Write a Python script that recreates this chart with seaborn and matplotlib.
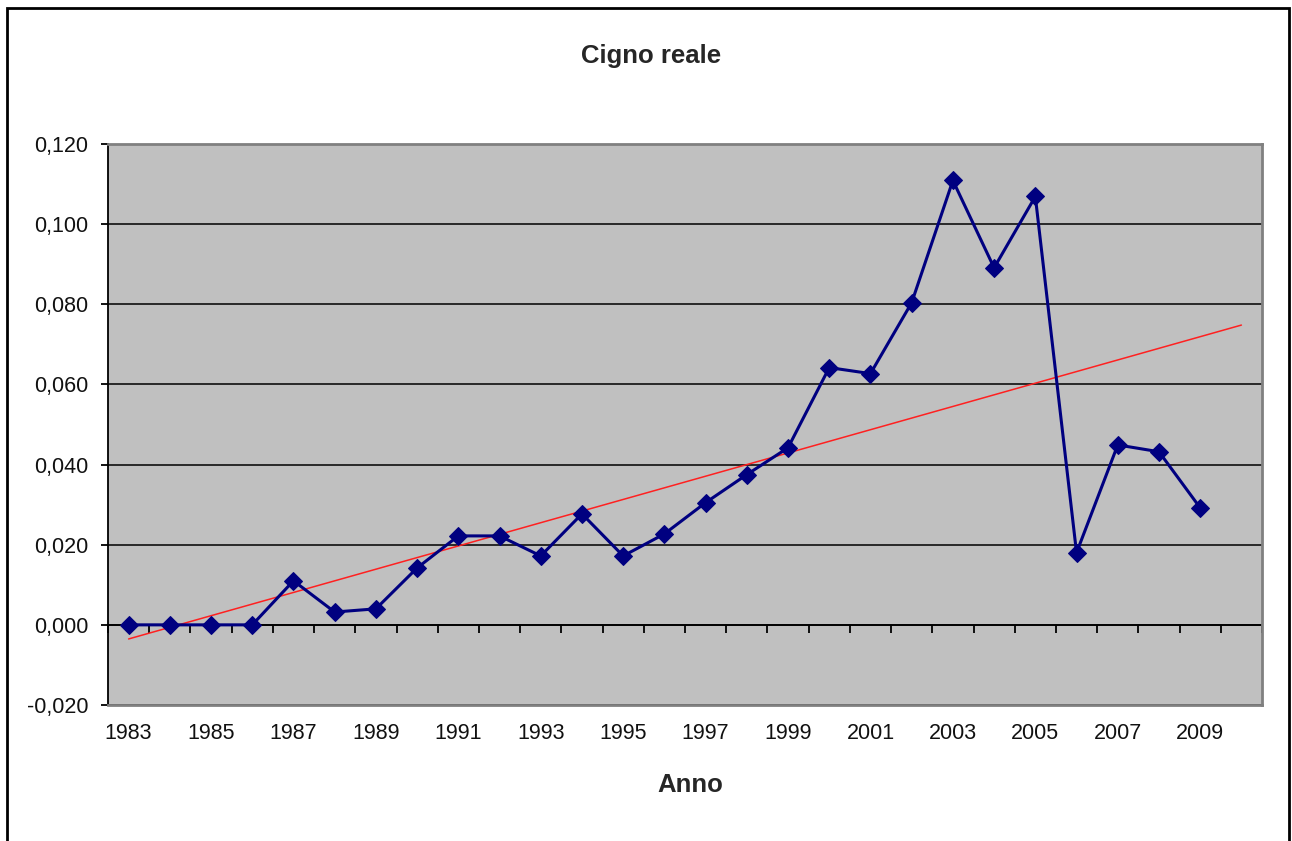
import numpy as np
import pandas as pd
import matplotlib
matplotlib.use("Agg")
import matplotlib.pyplot as plt
from matplotlib.ticker import FuncFormatter, MultipleLocator
from matplotlib.patches import Rectangle
import seaborn as sns

# values
years = list(range(1983, 2010))
values = [0.000, 0.000, 0.000, 0.000, 0.0110, 0.0032, 0.0040, 0.0142,
          0.0222, 0.0222, 0.0172, 0.0277, 0.0172, 0.0227, 0.0305, 0.0375,
          0.0442, 0.0642, 0.0627, 0.0804, 0.1109, 0.0891, 0.1069, 0.0180,
          0.0449, 0.0432, 0.0292]
trend_years = list(range(1983, 2011))
x_labels = list(range(1983, 2011, 2))

df = pd.DataFrame({"Anno": years, "Valore": values})

# linear trend, extended one year forward like the spreadsheet did
slope, intercept = np.polyfit(years, values, 1)
trend = pd.DataFrame({"Anno": trend_years})
trend["Valore"] = slope * trend["Anno"] + intercept

sns.set_style("white")
plt.rcParams["font.family"] = ["Liberation Sans", "DejaVu Sans"]

fig = plt.figure(figsize=(12.92, 8.41), dpi=100)
ax = fig.add_axes([108 / 1292, 1 - 705 / 841, (1262 - 108) / 1292, (705 - 144) / 841])
ax.set_facecolor("#C0C0C0")

sns.lineplot(data=trend, x="Anno", y="Valore", color="#FF2020", linewidth=1.1, ax=ax, zorder=3)
sns.lineplot(data=df, x="Anno", y="Valore", color="#000080", linewidth=2.2,
             marker="D", markersize=9, markeredgecolor="#000080", ax=ax, zorder=4)

ax.set_xlim(1982.5, 2010.5)
ax.set_ylim(-0.02, 0.12)
ax.yaxis.set_major_locator(MultipleLocator(0.02))
ax.yaxis.set_major_formatter(FuncFormatter(lambda v, p: f"{v:.3f}".replace(".", ",").replace("-0,000", "0,000")))
ax.grid(axis="y", color="black", linewidth=1.1)
ax.set_axisbelow(True)

ax.set_xticks(x_labels)
ax.set_xticklabels([str(y) for y in x_labels])
ax.tick_params(axis="x", length=0, pad=13, labelsize=15.5, colors="#111111")
ax.tick_params(axis="y", length=5, width=1.3, direction="out", pad=9, labelsize=15.5,
               colors="black", labelcolor="#111111")
ax.tick_params(axis="y", left=True)

for side in ["top", "right", "bottom"]:
    ax.spines[side].set_color("#808080")
    ax.spines[side].set_linewidth(2)
ax.spines["left"].set_color("black")
ax.spines["left"].set_linewidth(1.3)

# category axis crossing at zero, with ticks between the years
sec = ax.secondary_xaxis(0.02 / 0.14)
sec.set_xticks(np.arange(1982.5, 2011, 1))
sec.set_xticklabels([])
sec.tick_params(length=6, width=1.3, direction="out", color="black")
sec.spines["bottom"].set_color("black")
sec.spines["bottom"].set_linewidth(1.3)

ax.set_xlabel("")
ax.set_ylabel("")

fig.text(651 / 1292, 1 - 56 / 841, "Cigno reale", ha="center", va="center",
         fontsize=18.5, fontweight="bold")
fig.text(690 / 1292, 1 - 785 / 841, "Anno", ha="center", va="center",
         fontsize=18.5, fontweight="bold")

# outer chart frame
fig.patches.append(Rectangle((6.5 / 1292, -0.05), (1289 - 6.5) / 1292, 1.05 - 7.5 / 841,
                             transform=fig.transFigure, fill=False, edgecolor="black",
                             linewidth=2))

fig.savefig("out.png", dpi=100)
